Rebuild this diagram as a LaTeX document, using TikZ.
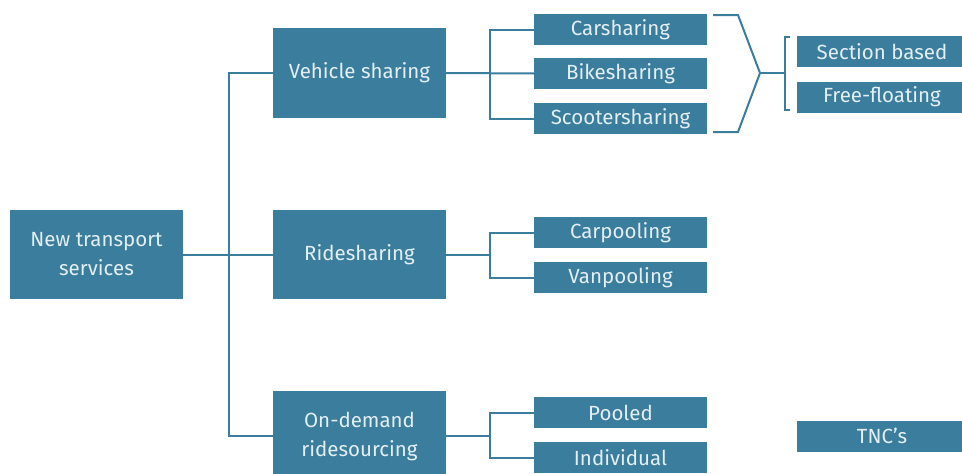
\documentclass[tikz,border=0pt]{standalone}
\usepackage{fontspec}
\setmainfont{Fira Sans}
\definecolor{boxblue}{HTML}{3A7D9C}
\definecolor{boxtext}{HTML}{E4EFF4}
\begin{document}
\begin{tikzpicture}[x=1pt,y=-1pt,
  box/.style={fill=boxblue,draw=none,text=boxtext,inner sep=0pt,align=center,
    font=\fontsize{20.5}{29}\selectfont},
  conn/.style={draw=boxblue,line width=2pt}]
\useasboundingbox (0,0) rectangle (962,474);
\clip (0,0) rectangle (962,474);
% boxes
\node[box,minimum width=173pt,minimum height=89pt] (root) at (96.5,254.5) {New transport\\services};
\node[box,minimum width=173pt,minimum height=90pt] (veh) at (359.5,73) {Vehicle sharing};
\node[box,minimum width=173pt,minimum height=89pt] (ride) at (359.5,254.5) {Ridesharing};
\node[box,minimum width=173pt,minimum height=90pt] (ond) at (359.5,436) {On-demand\\ridesourcing};
\node[box,minimum width=173pt,minimum height=31pt] (car) at (620.5,29.5) {Carsharing};
\node[box,minimum width=173pt,minimum height=31pt] (bike) at (620.5,73.5) {Bikesharing};
\node[box,minimum width=173pt,minimum height=31pt] (scoot) at (620.5,118.5) {Scootersharing};
\node[box,minimum width=173pt,minimum height=31pt] (carp) at (620.5,232.5) {Carpooling};
\node[box,minimum width=173pt,minimum height=31pt] (vanp) at (620.5,277.5) {Vanpooling};
\node[box,minimum width=173pt,minimum height=31pt] (pool) at (620.5,412.5) {Pooled};
\node[box,minimum width=173pt,minimum height=31pt] (indiv) at (620.5,457.5) {Individual};
\node[box,minimum width=170pt,minimum height=31pt] (sect) at (882,51.5) {Section based};
\node[box,minimum width=170pt,minimum height=31pt] (free) at (882,97) {Free-floating};
\node[box,minimum width=170pt,minimum height=31pt] (tnc) at (882,436) {TNC's};
% level 1 connectors
\coordinate (j1) at (229,254.5);
\draw[conn] (root.east) -- (ride.west);
\draw[conn] (veh.west) -| (j1);
\draw[conn] (ond.west) -| (j1);
% level 2 connectors
\draw[conn] (veh.east) -- (bike.west);
\draw[conn] (car.west) -| (490,73) |- (scoot.west);
\coordinate (j3) at (490,254.5);
\draw[conn] (ride.east) -- (j3);
\draw[conn] (carp.west) -| (j3) |- (vanp.west);
\coordinate (j4) at (490,436);
\draw[conn] (ond.east) -- (j4);
\draw[conn] (pool.west) -| (j4) |- (indiv.west);
% brace
\coordinate (tip) at (760,73);
\draw[conn,line join=miter] (713,15) -- (738,15) -- (tip) -- (738,132) -- (713,132);
\draw[conn] (tip) -- (785,73);
\draw[conn] (790,37) -- (785,37) -- (785,110) -- (790,110);
\end{tikzpicture}
\end{document}
